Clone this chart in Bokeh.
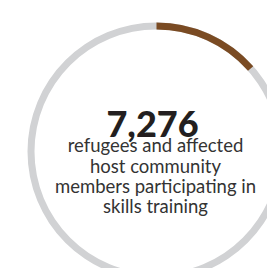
from bokeh.plotting import figure
from bokeh.models import Range1d
from bokeh.embed import file_html
from bokeh.resources import INLINE
from bokeh.core.properties import value

# Data
headline_value = ["7,276"]
share_highlighted = [0.135]
label_lines = ["refugees and affected", "host community",
               "members participating in", "skills training"]

W, H = 267, 268
p = figure(width=W, height=H, output_backend="svg", toolbar_location=None,
           x_range=Range1d(0, W), y_range=Range1d(-H, 0),
           min_border=0)
p.axis.visible = False
p.grid.visible = False
p.outline_line_color = None
p.background_fill_color = "white"
p.border_fill_color = "white"

cx, cy = 156, -151
r_out, r_in = 129, 122

p.annulus(x=[cx], y=[cy], inner_radius=r_in, outer_radius=r_out,
          fill_color="#D1D2D4", line_color=None)
frac = share_highlighted[0]
p.annular_wedge(x=[cx], y=[cy], inner_radius=r_in, outer_radius=r_out,
                start_angle=90 - frac * 360, end_angle=90,
                start_angle_units="deg", end_angle_units="deg",
                fill_color="#7A4B23", line_color=None)

p.text(x=[152], y=[-123], text=headline_value, text_font=value("Lato Black, Lato"),
       text_font_style="bold", text_font_size="36px", text_align="center",
       text_baseline="alphabetic", text_color="#231F20")

ys = [-144, -165, -185, -205]
p.text(x=[155] * 4, y=ys, text=label_lines, text_font=value("Lato"),
       text_font_size="18.5px", text_align="center", text_baseline="alphabetic",
       text_color="#333333")

open("out.html", "w").write(file_html(p, INLINE))
